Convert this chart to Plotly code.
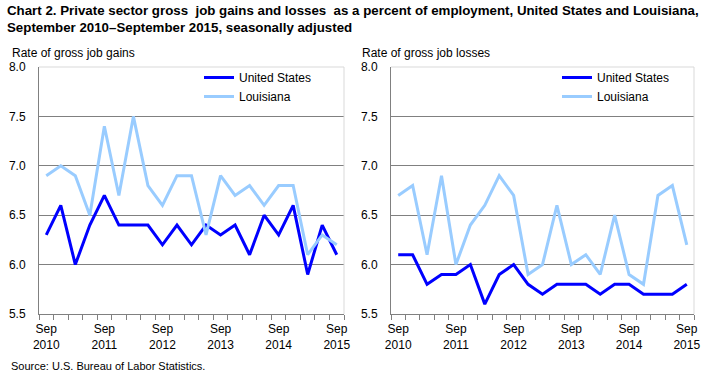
import plotly.graph_objects as go

quarters = ["Sep 2010", "Dec 2010", "Mar 2011", "Jun 2011", "Sep 2011", "Dec 2011", "Mar 2012",
            "Jun 2012", "Sep 2012", "Dec 2012", "Mar 2013", "Jun 2013", "Sep 2013", "Dec 2013",
            "Mar 2014", "Jun 2014", "Sep 2014", "Dec 2014", "Mar 2015", "Jun 2015", "Sep 2015"]
tick_labels = ["Sep<br>2010", "Sep<br>2011", "Sep<br>2012", "Sep<br>2013", "Sep<br>2014", "Sep<br>2015"]
tick_idx = [0, 4, 8, 12, 16, 20]

gains_us = [6.3, 6.6, 6.0, 6.4, 6.7, 6.4, 6.4, 6.4, 6.2, 6.4, 6.2, 6.4, 6.3, 6.4, 6.1, 6.5, 6.3, 6.6, 5.9, 6.4, 6.1]
gains_la = [6.9, 7.0, 6.9, 6.5, 7.4, 6.7, 7.5, 6.8, 6.6, 6.9, 6.9, 6.3, 6.9, 6.7, 6.8, 6.6, 6.8, 6.8, 6.1, 6.3, 6.2]
losses_us = [6.1, 6.1, 5.8, 5.9, 5.9, 6.0, 5.6, 5.9, 6.0, 5.8, 5.7, 5.8, 5.8, 5.8, 5.7, 5.8, 5.8, 5.7, 5.7, 5.7, 5.8]
losses_la = [6.7, 6.8, 6.1, 6.9, 6.0, 6.4, 6.6, 6.9, 6.7, 5.9, 6.0, 6.6, 6.0, 6.1, 5.9, 6.5, 5.9, 5.8, 6.7, 6.8, 6.2]

US_COLOR = "#0000FF"
LA_COLOR = "#99CCFF"
W, H = 711, 377
ML, MR, MT, MB = 39, 17, 67, 63
PW, PH = W - ML - MR, H - MT - MB


def px(xp):
    return (xp - ML) / PW


def py(yp):
    return (H - MB - yp) / PH


x = list(range(len(quarters)))

fig = go.Figure()
fig.add_trace(go.Scatter(x=x, y=gains_us, mode="lines", name="United States", text=quarters,
                         line=dict(color=US_COLOR, width=3), xaxis="x", yaxis="y", legend="legend"))
fig.add_trace(go.Scatter(x=x, y=gains_la, mode="lines", name="Louisiana", text=quarters,
                         line=dict(color=LA_COLOR, width=3), xaxis="x", yaxis="y", legend="legend"))
fig.add_trace(go.Scatter(x=x, y=losses_us, mode="lines", name="United States", text=quarters,
                         line=dict(color=US_COLOR, width=3), xaxis="x2", yaxis="y2", legend="legend2"))
fig.add_trace(go.Scatter(x=x, y=losses_la, mode="lines", name="Louisiana", text=quarters,
                         line=dict(color=LA_COLOR, width=3), xaxis="x2", yaxis="y2", legend="legend2"))

xdom1 = [px(39), px(344)]
xdom2 = [px(391), px(694)]

tickfont = dict(family="Liberation Sans, Arial, sans-serif", size=12, color="#000000")


def xaxis(dom, anchor):
    return dict(domain=dom, anchor=anchor, range=[-0.5, len(quarters) - 0.5], automargin=False,
                tickmode="array", tickvals=tick_idx, ticktext=tick_labels, ticks="",
                showgrid=False, zeroline=False, showline=True, linecolor="#808080", linewidth=1,
                tickfont=tickfont, ticklabelstandoff=4,
                minor=dict(ticks="outside", tick0=-0.5, dtick=1, ticklen=5, tickcolor="#808080",
                           showgrid=False))


def yaxis(anchor):
    return dict(domain=[0, 1], anchor=anchor, range=[5.5, 8.0], tickmode="array", automargin=False,
                tickvals=[5.5, 6.0, 6.5, 7.0, 7.5, 8.0], tickformat=".1f",
                showgrid=True, gridcolor="#808080", gridwidth=1, zeroline=False,
                showline=True, linecolor="#808080", linewidth=1, ticks="",
                tickfont=tickfont, ticklabelstandoff=10)


legfont = dict(family="Liberation Sans, Arial, sans-serif", size=12, color="#000000")

fig.update_layout(
    width=W, height=H,
    margin=dict(l=ML, r=MR, t=MT, b=MB, pad=0),
    paper_bgcolor="white", plot_bgcolor="white",
    xaxis=xaxis(xdom1, "y"), yaxis=yaxis("x"),
    xaxis2=xaxis(xdom2, "y2"), yaxis2=yaxis("x2"),
    showlegend=True,
    legend=dict(x=px(199), y=py(63), xanchor="left", yanchor="top", bgcolor="rgba(0,0,0,0)",
                font=legfont, itemwidth=30, tracegroupgap=0),
    legend2=dict(x=px(557), y=py(63), xanchor="left", yanchor="top", bgcolor="rgba(0,0,0,0)",
                 font=legfont, itemwidth=30, tracegroupgap=0),
    hovermode=False,
)

narrow = "Liberation Sans Narrow, Arial Narrow, Liberation Sans, sans-serif"
fig.add_annotation(xref="paper", yref="paper", x=px(5), y=py(1), xanchor="left", yanchor="top",
                   align="left", showarrow=False,
                   text="<b>Chart 2. Private sector gross  job gains and losses  as a percent of employment, United States and Louisiana,<br>September 2010\u2013September 2015, seasonally adjusted</b>",
                   font=dict(family=narrow, size=13.3, color="#000000"))
fig.add_annotation(xref="paper", yref="paper", x=px(10), y=py(44), xanchor="left", yanchor="top",
                   showarrow=False, text="Rate of gross job gains",
                   font=dict(family=narrow, size=12, color="#000000"))
fig.add_annotation(xref="paper", yref="paper", x=px(360), y=py(44), xanchor="left", yanchor="top",
                   showarrow=False, text="Rate of gross job losses",
                   font=dict(family=narrow, size=12, color="#000000"))
fig.add_annotation(xref="paper", yref="paper", x=px(9), y=py(358), xanchor="left", yanchor="top",
                   showarrow=False, text="Source: U.S. Bureau of Labor Statistics.",
                   font=dict(family="Liberation Sans, Arial, sans-serif", size=11, color="#000000"))

# light top and right borders of each plot area
for xr, yr in (("x", "y"), ("x2", "y2")):
    fig.add_shape(type="line", xref=f"{xr} domain", yref=f"{yr} domain", x0=0, x1=1, y0=1, y1=1,
                  line=dict(color="#D9D9D9", width=1), layer="above")
    fig.add_shape(type="line", xref=f"{xr} domain", yref=f"{yr} domain", x0=1, x1=1, y0=0, y1=1,
                  line=dict(color="#D9D9D9", width=1), layer="above")

fig.write_html("out.html", config={"displayModeBar": False},
               post_script="document.body.style.margin='0px';document.body.style.overflow='hidden';")
